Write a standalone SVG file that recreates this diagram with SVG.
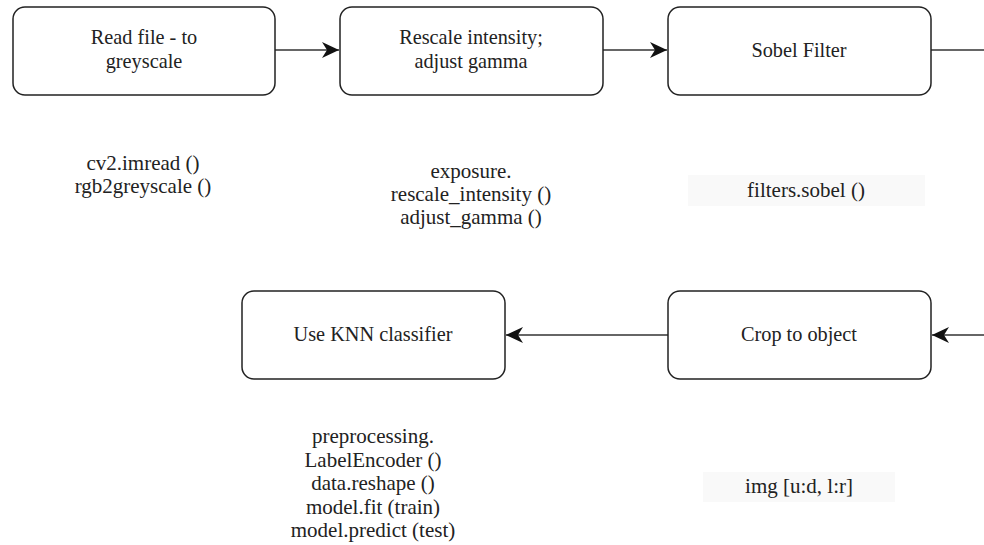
<svg xmlns="http://www.w3.org/2000/svg" width="984" height="545" viewBox="0 0 984 545">
  <style>
    .box { fill: #ffffff; stroke: #222222; stroke-width: 1.5; }
    .lbl { font-family: "Liberation Serif", "DejaVu Serif", serif; font-size: 20.3px; fill: #222222; text-anchor: middle; }
    .code { font-family: "Liberation Serif", "DejaVu Serif", serif; font-size: 21px; fill: #222222; text-anchor: middle; }
    .edge { fill: none; stroke: #333333; stroke-width: 1.6; }
    .hl { fill: #f9f9f9; }
  </style>
  <defs>
    <marker id="arrow" markerWidth="18" markerHeight="17" refX="17" refY="8.5" orient="auto" markerUnits="userSpaceOnUse">
      <path d="M0,0.5 L17,8.5 L0,16.5 L5,8.5 Z" fill="#111111"/>
    </marker>
  </defs>

  <!-- connectors -->
  <g id="connectors">
    <line class="edge" x1="275" y1="50" x2="339" y2="50" marker-end="url(#arrow)"/>
    <line class="edge" x1="603" y1="50" x2="667" y2="50" marker-end="url(#arrow)"/>
    <line class="edge" x1="931" y1="50" x2="984" y2="50"/>
    <line class="edge" x1="984" y1="335" x2="932" y2="335" marker-end="url(#arrow)"/>
    <line class="edge" x1="668" y1="335" x2="506" y2="335" marker-end="url(#arrow)"/>
  </g>

  <!-- process steps -->
  <g id="read-file">
    <rect class="box" x="13" y="7" width="262" height="88" rx="12"/>
    <text class="lbl" x="144" y="44">Read file - to</text>
    <text class="lbl" x="144" y="68">greyscale</text>
  </g>
  <g id="rescale">
    <rect class="box" x="340" y="7" width="263" height="88" rx="12"/>
    <text class="lbl" x="471" y="44">Rescale intensity;</text>
    <text class="lbl" x="471" y="68">adjust gamma</text>
  </g>
  <g id="sobel">
    <rect class="box" x="668" y="7" width="263" height="88" rx="12"/>
    <text class="lbl" x="799" y="57">Sobel Filter</text>
  </g>
  <g id="knn">
    <rect class="box" x="242" y="291" width="263" height="88" rx="12"/>
    <text class="lbl" x="373" y="341">Use KNN classifier</text>
  </g>
  <g id="crop">
    <rect class="box" x="668" y="291" width="263" height="88" rx="12"/>
    <text class="lbl" x="799" y="341">Crop to object</text>
  </g>

  <!-- function calls used in each step -->
  <g id="read-file-code">
    <text class="code" x="143" y="170">cv2.imread ()</text>
    <text class="code" x="143" y="193">rgb2greyscale ()</text>
  </g>
  <g id="rescale-code">
    <text class="code" x="471" y="178">exposure.</text>
    <text class="code" x="471" y="201">rescale_intensity ()</text>
    <text class="code" x="471" y="224">adjust_gamma ()</text>
  </g>
  <g id="sobel-code">
    <rect class="hl" x="688" y="175" width="237" height="31"/>
    <text class="code" x="806" y="197">filters.sobel ()</text>
  </g>
  <g id="knn-code">
    <text class="code" x="373" y="443">preprocessing.</text>
    <text class="code" x="373" y="467">LabelEncoder ()</text>
    <text class="code" x="373" y="490">data.reshape ()</text>
    <text class="code" x="373" y="514">model.fit (train)</text>
    <text class="code" x="373" y="537">model.predict (test)</text>
  </g>
  <g id="crop-code">
    <rect class="hl" x="703" y="472" width="192" height="30"/>
    <text class="code" x="799" y="493">img [u:d, l:r]</text>
  </g>
</svg>
